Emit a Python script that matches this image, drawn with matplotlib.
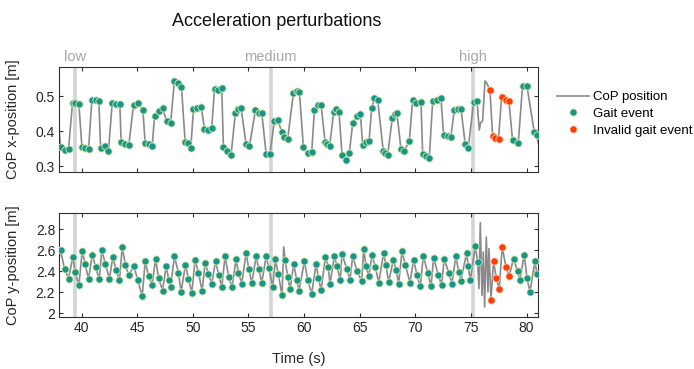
import matplotlib
matplotlib.use("Agg")
import matplotlib.pyplot as plt
import matplotlib.transforms as mtransforms
from matplotlib.lines import Line2D
import numpy as np

plt.rcParams['font.family'] = ['Liberation Sans', 'DejaVu Sans']

# ---------------- data ----------------
perturb_times = [39.45, 57.0, 75.2]
perturb_labels = ["low", "medium", "high"]

# CoP x: valid gait events
gx_t = [38.11, 38.47, 38.83, 39.19, 39.43, 39.76, 40.03, 40.33, 40.63, 40.93, 41.26, 41.56,
        41.71, 42.15, 42.42, 42.75, 43.11, 43.44, 43.56, 43.92, 44.25, 44.67, 45.06, 45.51,
        45.72, 46.02, 46.35, 46.56, 46.92, 47.28, 47.64, 48.00, 48.35, 48.68, 48.98, 49.31,
        49.55, 49.82, 50.06, 50.42, 50.75, 51.05, 51.35, 51.70, 51.95, 52.30, 52.60, 52.75,
        53.11, 53.44, 53.83, 54.10, 54.34, 54.79, 55.09, 55.63, 55.99, 56.20, 56.59, 56.94,
        57.33, 57.63, 57.99, 58.23, 58.53, 59.04, 59.37, 59.58, 59.94, 60.33, 60.69, 60.93,
        61.23, 61.53, 61.89, 62.06, 62.30, 62.66, 62.90, 63.14, 63.41, 63.77, 64.07, 64.37,
        64.73, 65.06, 65.27, 65.57, 65.84, 66.08, 66.32, 66.62, 67.12, 67.30, 67.51, 67.93,
        68.17, 68.35, 68.71, 69.01, 69.46, 69.76, 70.06, 70.51, 70.66, 70.96, 71.26, 71.56,
        71.94, 72.30, 72.54, 72.90, 73.20, 73.50, 73.80, 74.10, 74.49, 74.76, 75.24, 75.54,
        78.74, 79.25, 79.64, 80.03, 80.69, 80.90]
gx_v = [0.355, 0.346, 0.348, 0.481, 0.481, 0.478, 0.355, 0.352, 0.350, 0.489, 0.489, 0.485,
        0.352, 0.357, 0.342, 0.479, 0.477, 0.478, 0.368, 0.364, 0.360, 0.474, 0.481, 0.461,
        0.365, 0.362, 0.357, 0.443, 0.458, 0.466, 0.429, 0.422, 0.543, 0.538, 0.527, 0.370,
        0.367, 0.353, 0.462, 0.467, 0.470, 0.407, 0.402, 0.408, 0.521, 0.516, 0.523, 0.355,
        0.343, 0.333, 0.452, 0.462, 0.465, 0.362, 0.357, 0.459, 0.452, 0.452, 0.335, 0.335,
        0.429, 0.433, 0.398, 0.384, 0.378, 0.508, 0.513, 0.512, 0.354, 0.336, 0.340, 0.460,
        0.473, 0.475, 0.368, 0.364, 0.357, 0.454, 0.462, 0.455, 0.333, 0.316, 0.338, 0.422,
        0.443, 0.450, 0.360, 0.369, 0.371, 0.465, 0.493, 0.488, 0.343, 0.336, 0.331, 0.436,
        0.450, 0.452, 0.348, 0.344, 0.371, 0.489, 0.479, 0.483, 0.335, 0.330, 0.324, 0.486,
        0.490, 0.495, 0.390, 0.386, 0.384, 0.460, 0.462, 0.464, 0.362, 0.352, 0.483, 0.487,
        0.374, 0.365, 0.530, 0.529, 0.397, 0.388]
# CoP x: invalid gait events
ix_t = [76.71, 76.95, 77.16, 77.48, 77.75, 78.11, 78.41]
ix_v = [0.516, 0.385, 0.380, 0.378, 0.497, 0.488, 0.487]
# CoP x: extra trace vertices (between events)
ex_t = [37.87, 75.75, 75.87, 76.05, 76.26, 76.44, 81.1]
ex_v = [0.448, 0.403, 0.424, 0.429, 0.543, 0.536, 0.36]

# CoP y: valid gait events
gy_t = [38.11, 38.47, 38.83, 39.22, 39.43, 39.76, 40.06, 40.33, 40.63, 40.96, 41.26, 41.59,
        41.82, 42.15, 42.51, 42.81, 43.11, 43.41, 43.65, 43.95, 44.25, 44.70, 45.06, 45.45,
        45.72, 46.02, 46.35, 46.65, 46.92, 47.28, 47.61, 47.85, 48.00, 48.35, 48.71, 48.95,
        49.34, 49.61, 49.91, 50.21, 50.51, 50.84, 51.11, 51.41, 51.71, 52.04, 52.34, 52.60,
        52.90, 53.23, 53.53, 53.89, 54.10, 54.40, 54.79, 55.03, 55.30, 55.69, 55.93, 56.20,
        56.59, 56.83, 57.19, 57.42, 57.69, 58.02, 58.29, 58.53, 58.74, 59.07, 59.34, 59.55,
        60.03, 60.33, 60.69, 61.08, 61.29, 61.53, 61.92, 62.18, 62.33, 62.72, 62.96, 63.26,
        63.41, 63.83, 64.13, 64.37, 64.76, 65.18, 65.36, 65.57, 65.81, 66.11, 66.41, 66.71,
        67.15, 67.36, 67.60, 68.02, 68.26, 68.50, 68.80, 69.10, 69.52, 69.85, 70.15, 70.45,
        70.72, 71.11, 71.41, 71.65, 72.06, 72.36, 72.60, 72.99, 73.29, 73.65, 73.89, 74.10,
        74.61, 74.76, 74.94, 75.39, 75.60,
        78.83, 79.19, 79.40, 79.79, 80.03, 80.30, 80.75, 80.93]
gy_v = [2.600, 2.425, 2.330, 2.536, 2.394, 2.267, 2.594, 2.467, 2.324, 2.559, 2.441, 2.324,
        2.600, 2.467, 2.330, 2.536, 2.410, 2.314, 2.629, 2.457, 2.362, 2.451, 2.314, 2.162,
        2.498, 2.352, 2.273, 2.520, 2.337, 2.216, 2.451, 2.314, 2.248, 2.543, 2.387, 2.203,
        2.463, 2.330, 2.197, 2.511, 2.387, 2.213, 2.483, 2.371, 2.283, 2.498, 2.362, 2.248,
        2.543, 2.346, 2.248, 2.520, 2.387, 2.283, 2.575, 2.425, 2.289, 2.543, 2.425, 2.292,
        2.543, 2.432, 2.251, 2.514, 2.371, 2.171, 2.511, 2.346, 2.229, 2.473, 2.314, 2.213,
        2.498, 2.314, 2.187, 2.473, 2.340, 2.219, 2.537, 2.441, 2.276, 2.543, 2.451, 2.314,
        2.568, 2.425, 2.321, 2.543, 2.403, 2.308, 2.616, 2.451, 2.352, 2.552, 2.441, 2.292,
        2.575, 2.457, 2.298, 2.505, 2.416, 2.283, 2.590, 2.463, 2.292, 2.511, 2.362, 2.257,
        2.549, 2.387, 2.257, 2.527, 2.368, 2.267, 2.520, 2.384, 2.283, 2.549, 2.394, 2.308,
        2.575, 2.451, 2.314, 2.641, 2.489,
        2.520, 2.400, 2.314, 2.559, 2.340, 2.203, 2.495, 2.378]
# CoP y: invalid gait events
iy_t = [76.80, 77.03, 77.27, 77.54, 77.81, 78.14, 78.44]
iy_v = [2.130, 2.498, 2.340, 2.229, 2.635, 2.441, 2.356]
# CoP y: extra trace vertices
ey_t = [37.9, 58.17, 75.72, 75.84, 75.99, 76.11, 76.23, 76.38, 76.53, 76.62]
ey_v = [2.48, 2.632, 2.235, 2.863, 2.171, 2.584, 2.060, 2.727, 2.203, 2.616]

# ---------------- styling ----------------
TEAL = '#1c9485'
RED = '#ff3d00'
EDGE_T = '#d8eeb0'
EDGE_R = '#ffd0b8'
LINE_C = '#8a8a8a'
AX_C = '#303030'
PERT_C = '#d4d4d4'


def trace(t1, v1, t2, v2, t3, v3):
    t = np.concatenate([t1, t2, t3])
    v = np.concatenate([v1, v2, v3])
    o = np.argsort(t, kind='stable')
    return t[o], v[o]


fig = plt.figure(figsize=(6.94, 3.69), dpi=100)
W, H = 694, 369
L, R = 59.3, 537.7
ax1 = fig.add_axes([L / W, 1 - 171.7 / H, (R - L) / W, (171.7 - 67.3) / H])
ax2 = fig.add_axes([L / W, 1 - 316.7 / H, (R - L) / W, (316.7 - 213.3) / H])

panels = [
    (ax1, gx_t, gx_v, ix_t, ix_v, ex_t, ex_v, (0.284, 0.582), [0.3, 0.4, 0.5], ['0.3', '0.4', '0.5'],
     'CoP x-position [m]'),
    (ax2, gy_t, gy_v, iy_t, iy_v, ey_t, ey_v, (1.968, 2.952), [2.0, 2.2, 2.4, 2.6, 2.8],
     ['2', '2.2', '2.4', '2.6', '2.8'], 'CoP y-position [m]'),
]

for ax, gt, gv, it, iv, et, ev, ylim, yt, ytl, ylab in panels:
    for pt in perturb_times:
        ax.axvline(pt, color=PERT_C, lw=2.6, zorder=1)
    lt, lv = trace(gt, gv, it, iv, et, ev)
    ax.plot(lt, lv, color=LINE_C, lw=1.2, zorder=2)
    ax.plot(gt, gv, 'o', ms=5.2, mfc=TEAL, mec=EDGE_T, mew=0.6, zorder=3)
    ax.plot(it, iv, 'o', ms=5.2, mfc=RED, mec=EDGE_R, mew=0.6, zorder=3)
    ax.set_xlim(38.0, 81.0)
    ax.set_ylim(*ylim)
    ax.set_yticks(yt)
    ax.set_yticklabels(ytl)
    ax.set_xticks([40, 45, 50, 55, 60, 65, 70, 75, 80])
    ax.tick_params(direction='in', length=3, width=0.8, colors=AX_C, labelsize=10,
                   top=True, right=True, labelcolor='#262626', pad=3)
    for s in ax.spines.values():
        s.set_color(AX_C)
        s.set_linewidth(0.8)
    ax.set_ylabel(ylab, fontsize=10.5, color='#262626')
    ax.yaxis.set_label_coords(-0.082, 0.5)

ax1.tick_params(labelbottom=False)
ax2.set_xlabel('Time (s)', fontsize=10.5, color='#262626', labelpad=12)

trans = mtransforms.blended_transform_factory(ax1.transData, ax1.transAxes)
for pt, lab in zip(perturb_times, perturb_labels):
    ax1.text(pt, 1.10, lab, transform=trans, ha='center', va='center',
             fontsize=10.5, color='#a8a8a8')

fig.text(277 / W, 1 - 22 / H, 'Acceleration perturbations', ha='center', va='center',
         fontsize=13, color='#111111')

handles = [
    Line2D([], [], color=LINE_C, lw=1.2),
    Line2D([], [], ls='none', marker='o', ms=5.2, mfc=TEAL, mec=EDGE_T, mew=0.6),
    Line2D([], [], ls='none', marker='o', ms=5.2, mfc=RED, mec=EDGE_R, mew=0.6),
]
fig.legend(handles, ['CoP position', 'Gait event', 'Invalid gait event'],
           loc='upper left', bbox_to_anchor=(557 / W, 1 - 91 / H), frameon=False,
           fontsize=9.5, handlelength=2.4, handletextpad=0.35, labelspacing=0.35,
           borderaxespad=0, borderpad=0)

fig.savefig('out.png', dpi=100)
